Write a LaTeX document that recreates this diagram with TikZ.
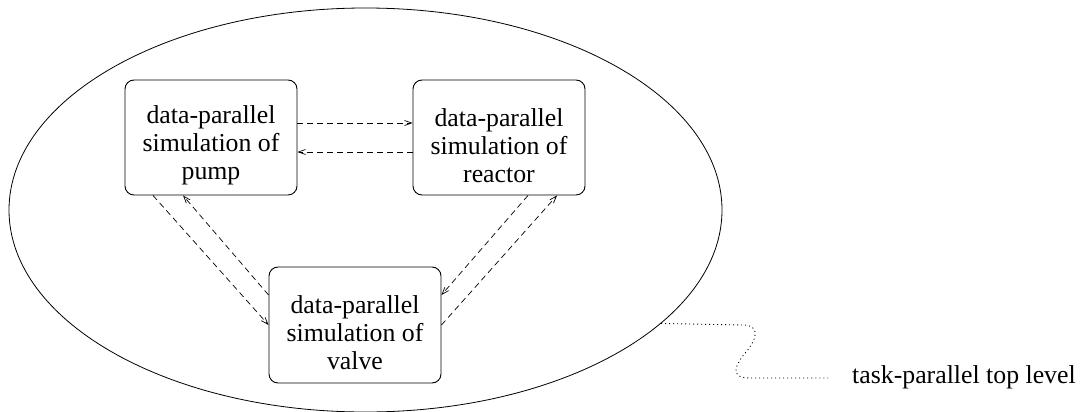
\documentclass[tikz,border=0pt]{standalone}
\usepackage{fontspec}
\setmainfont{Liberation Serif}
\usetikzlibrary{arrows.meta,shapes.geometric}
\begin{document}
\begin{tikzpicture}[x=1pt,y=-1pt,
  simbox/.style={draw, line width=0.9pt, rounded corners=9pt, minimum width=172pt,
    minimum height=115pt, inner sep=0pt, align=center,
    font=\fontsize{25.8}{28}\selectfont},
  flow/.style={line width=0.7pt, dash pattern=on 6pt off 4pt,
    -{Straight Barb[length=7pt,width=5pt]}},
  notecurve/.style={line width=0.9pt, dash pattern=on 1pt off 3pt}]
\useasboundingbox (0,0) rectangle (1081,412);
\node[draw, ellipse, line width=0.8pt, minimum width=713pt, minimum height=404pt, inner sep=0pt] (ell) at (365.5,210) {};
\node[simbox] (pump) at (211,137.5) {\rule{0pt}{33.6pt}data-parallel\\simulation of\\pump};
\node[simbox] (reactor) at (499,137.5) {\rule{0pt}{33.6pt}data-parallel\\simulation of\\reactor};
\node[simbox, minimum height=116pt] (valve) at (355,325) {\rule{0pt}{33.6pt}data-parallel\\simulation of\\valve};
\draw[flow] ([yshift=14.5pt]pump.east) -- ([yshift=14.5pt]reactor.west);
\draw[flow] ([yshift=-14.5pt]reactor.west) -- ([yshift=-14.5pt]pump.east);
\draw[flow] ([xshift=-58pt]pump.south) -- (valve.west);
\draw[flow] ([yshift=30pt]valve.west) -- ([xshift=-28pt]pump.south);
\draw[flow] ([xshift=29pt]reactor.south) -- ([yshift=30pt]valve.east);
\draw[flow] (valve.east) -- ([xshift=58pt]reactor.south);
\node[anchor=base west, inner sep=0pt, font=\fontsize{25.8}{28}\selectfont] (note) at (852,383) {task-parallel top level};
\draw[notecurve] (ell.-21) -- (742,325) .. controls (762,325) and (756,340) .. (746,352)
  .. controls (736,364) and (728,378) .. (750,378) -- ([xshift=-24pt,yshift=5pt]note.base west);
\end{tikzpicture}
\end{document}
